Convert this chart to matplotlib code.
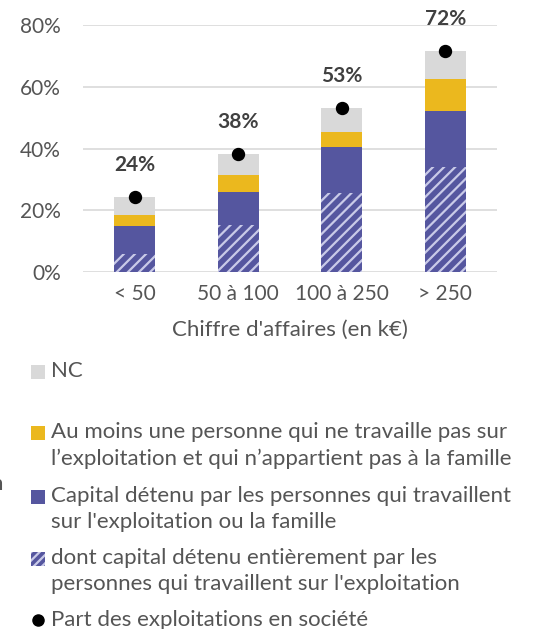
import numpy as np
import matplotlib.pyplot as plt
from matplotlib.patches import Rectangle

plt.rcParams['font.family'] = ['Lato', 'DejaVu Sans']
plt.rcParams['hatch.linewidth'] = 1.6

categories = ['< 50', '50 à 100', '100 à 250', '> 250']
dont_capital = [5.8, 15.1, 25.6, 33.9]      # dont capital détenu entièrement (subset)
capital = [15.0, 26.1, 40.6, 52.2]          # capital détenu ... ou la famille
au_moins = [3.5, 5.3, 4.8, 10.3]            # au moins une personne extérieure
nc = [5.8, 6.9, 7.9, 9.2]                   # NC
part_societe = [24.3, 38.3, 53.3, 71.7]     # part des exploitations en société
part_labels = ['24%', '38%', '53%', '72%']

GRAY = '#D9D9D9'
YELLOW = '#EBB81E'
BLUE = '#55569F'
HATCH = '#C9CAE8'
TXT = '#555555'

W, H = 535, 629
fig = plt.figure(figsize=(W / 100, H / 100), dpi=100)
ax = fig.add_axes([83 / W, 1 - 272 / H, 414 / W, (272 - 25.3) / H])

x = np.arange(len(categories))
bw = 0.4
cap = np.array(capital)
am = np.array(au_moins)
ax.bar(x, cap, bw, color=BLUE, zorder=2)
ax.bar(x, dont_capital, bw, color=BLUE, edgecolor=HATCH, hatch='///', lw=0, zorder=3)
ax.bar(x, am, bw, bottom=cap, color=YELLOW, zorder=2)
ax.bar(x, nc, bw, bottom=cap + am, color=GRAY, zorder=2)
ax.plot(x, part_societe, 'o', color='black', markersize=8.6, zorder=4, clip_on=False)
for xi, v, lab in zip(x, part_societe, part_labels):
    ax.text(xi, v + 10.3, lab, ha='center', va='center', fontsize=15,
            fontweight='bold', color='#404040')

ax.set_xlim(-0.5, 3.5)
ax.set_ylim(0, 80)
ax.set_yticks([0, 20, 40, 60, 80])
ax.set_yticklabels(['0%', '20%', '40%', '60%', '80%'])
ax.set_xticks(x)
ax.set_xticklabels(categories)
ax.tick_params(length=0, labelsize=15, labelcolor=TXT)
ax.tick_params(axis='y', pad=16)
ax.tick_params(axis='x', pad=9)
ax.grid(axis='y', color=GRAY, lw=1.2, zorder=0)
for s in ax.spines.values():
    s.set_visible(False)
ax.set_xlabel("Chiffre d'affaires (en k€)", fontsize=16, color=TXT, labelpad=11)

# legend drawn by hand (markers aligned with first line of text)
def fx(px):
    return px / W

def fy(py):
    return 1 - py / H

entries = [
    (371.7, GRAY, None, 'NC'),
    (433.3, YELLOW, None, 'Au moins une personne qui ne travaille pas sur\nl\u2019exploitation et qui n\u2019appartient pas à la famille'),
    (496.7, BLUE, None, 'Capital détenu par les personnes qui travaillent\nsur l\'exploitation ou la famille'),
    (559.0, BLUE, '////', 'dont capital détenu entièrement par les\npersonnes qui travaillent sur l\'exploitation'),
]
for yc, col, hatch, lab in entries:
    r = Rectangle((fx(31.3), fy(yc + 7)), 14 / W, 14 / H, transform=fig.transFigure,
                  facecolor=col, edgecolor=HATCH if hatch else col, hatch=hatch,
                  lw=0)
    fig.patches.append(r)
    fig.text(fx(50.7), fy(yc - 11), lab, ha='left', va='top', fontsize=16,
             color=TXT, linespacing=1.38)

fig.lines.append(plt.Line2D([fx(38)], [fy(620)], marker='o', color='black',
                            markersize=8, transform=fig.transFigure))
fig.text(fx(50.7), fy(620), 'Part des exploitations en société', ha='left',
         va='center', fontsize=16, color=TXT)
fig.text(fx(2.5), fy(484), 'n', ha='right', va='center', fontsize=16, color=TXT)

fig.savefig('out.png', dpi=100)
